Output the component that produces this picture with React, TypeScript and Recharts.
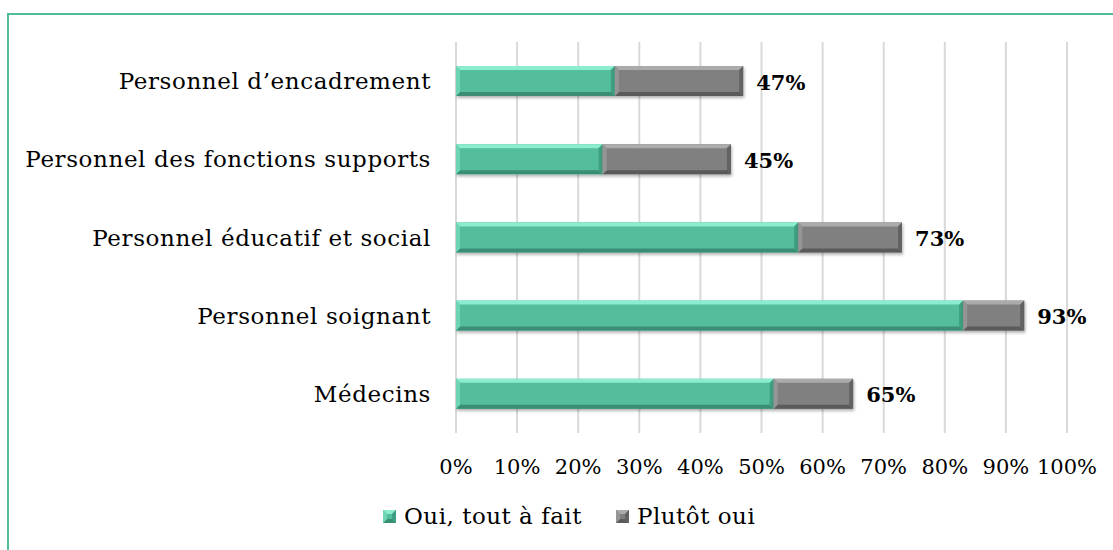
import React from "react";
import { BarChart, Bar, XAxis, YAxis, CartesianGrid, LabelList } from "recharts";

const categories = [
  "Personnel d’encadrement",
  "Personnel des fonctions supports",
  "Personnel éducatif et social",
  "Personnel soignant",
  "Médecins",
];
const ouiToutAFait = [26, 24, 56, 83, 52];
const plutotOui = [21, 21, 17, 10, 13];
const xTicks = [0, 10, 20, 30, 40, 50, 60, 70, 80, 90, 100];

const SERIES = [
  { key: "oui", name: "Oui, tout à fait" },
  { key: "plutot", name: "Plutôt oui" },
];

const FONT = "'DejaVu Serif', serif";

const BEVEL: Record<string, { base: string; top: string; left: string; right: string; bottom: string }> = {
  oui: { base: "#52bd9c", top: "#8cecd0", left: "#6dd5b6", right: "#3f9e81", bottom: "#3a8e74" },
  plutot: { base: "#808080", top: "#ababab", left: "#959595", right: "#626262", bottom: "#5a5a5a" },
};

const data = categories.map((name, i) => ({
  name,
  oui: ouiToutAFait[i],
  plutot: plutotOui[i],
  total: ouiToutAFait[i] + plutotOui[i],
}));

function BevelRect({ x, y, width, height, c }: { x: number; y: number; width: number; height: number; c: typeof BEVEL.oui }) {
  const d = Math.min(4, width / 2, height / 2);
  const x2 = x + width;
  const y2 = y + height;
  return (
    <g>
      <rect x={x} y={y} width={width} height={height} fill={c.base} />
      <polygon points={`${x},${y} ${x2},${y} ${x2 - d},${y + d} ${x + d},${y + d}`} fill={c.top} />
      <polygon points={`${x},${y2} ${x2},${y2} ${x2 - d},${y2 - d} ${x + d},${y2 - d}`} fill={c.bottom} />
      <polygon points={`${x},${y} ${x + d},${y + d} ${x + d},${y2 - d} ${x},${y2}`} fill={c.left} />
      <polygon points={`${x2},${y} ${x2 - d},${y + d} ${x2 - d},${y2 - d} ${x2},${y2}`} fill={c.right} />
    </g>
  );
}

function makeShape(key: string) {
  return (props: any) => {
    const { x, y, width, height } = props;
    if (!width || width <= 0) return null;
    return (
      <g filter="url(#barShadow)">
        <BevelRect x={x} y={y} width={width} height={height} c={BEVEL[key]} />
      </g>
    );
  };
}

function TotalLabel(props: any) {
  const { x, y, width, height, value } = props;
  return (
    <text
      x={x + width + 13}
      y={y + height / 2 + 3}
      dominantBaseline="middle"
      fontFamily={FONT}
      fontWeight="bold"
      fontSize={21}
      fill="#000"
    >
      {value}%
    </text>
  );
}

function LegendIcon({ c }: { c: typeof BEVEL.oui }) {
  return (
    <svg width={13} height={13} style={{ marginRight: 8 }}>
      <BevelRect x={0} y={0} width={13} height={13} c={c} />
    </svg>
  );
}

export default function App() {
  return (
    <div
      style={{
        position: "absolute",
        left: 0,
        top: 0,
        width: 1113,
        height: 550,
        overflow: "hidden",
        background: "#fff",
      }}
    >
      {/* chart frame */}
      <div
        style={{
          position: "absolute",
          left: 7,
          top: 13,
          width: 1200,
          height: 700,
          border: "2px solid #52bc9a",
        }}
      />
      <div style={{ position: "absolute", left: 0, top: 0 }}>
        <BarChart
          width={1113}
          height={550}
          data={data}
          layout="vertical"
          margin={{ top: 42, right: 46, bottom: 77, left: 0 }}
          barSize={30}
        >
          <defs>
            <filter id="barShadow" x="-5%" y="-30%" width="110%" height="180%">
              <feDropShadow dx="1" dy="2" stdDeviation="1.5" floodColor="#000" floodOpacity="0.3" />
            </filter>
          </defs>
          <CartesianGrid horizontal={false} stroke="#d9d9d9" strokeWidth={2} />
          <XAxis
            type="number"
            domain={[0, 100]}
            ticks={xTicks}
            tickFormatter={(v) => `${v}%`}
            axisLine={false}
            tickLine={false}
            tickMargin={20}
            height={40}
            interval={0}
            tick={{ fill: "#000", fontSize: 21, fontFamily: FONT }}
          />
          <YAxis
            type="category"
            dataKey="name"
            width={456}
            axisLine={false}
            tickLine={false}
            tickMargin={19}
            interval={0}
            tick={{ fill: "#000", fontSize: 23, fontFamily: FONT, letterSpacing: 0.6 }}
          />
          <Bar dataKey="oui" stackId="a" shape={makeShape("oui")} isAnimationActive={false} />
          <Bar dataKey="plutot" stackId="a" shape={makeShape("plutot")} isAnimationActive={false}>
            <LabelList dataKey="total" content={TotalLabel} />
          </Bar>
        </BarChart>
      </div>
      {/* legend */}
      <div
        style={{
          position: "absolute",
          left: 383,
          top: 503,
          display: "flex",
          fontFamily: FONT,
          fontSize: 23,
          letterSpacing: 0.5,
          color: "#000",
        }}
      >
        {SERIES.map((s, i) => (
          <div key={s.key} style={{ display: "flex", alignItems: "center", marginLeft: i ? 34 : 0 }}>
            <LegendIcon c={BEVEL[s.key]} />
            <span>{s.name}</span>
          </div>
        ))}
      </div>
    </div>
  );
}
